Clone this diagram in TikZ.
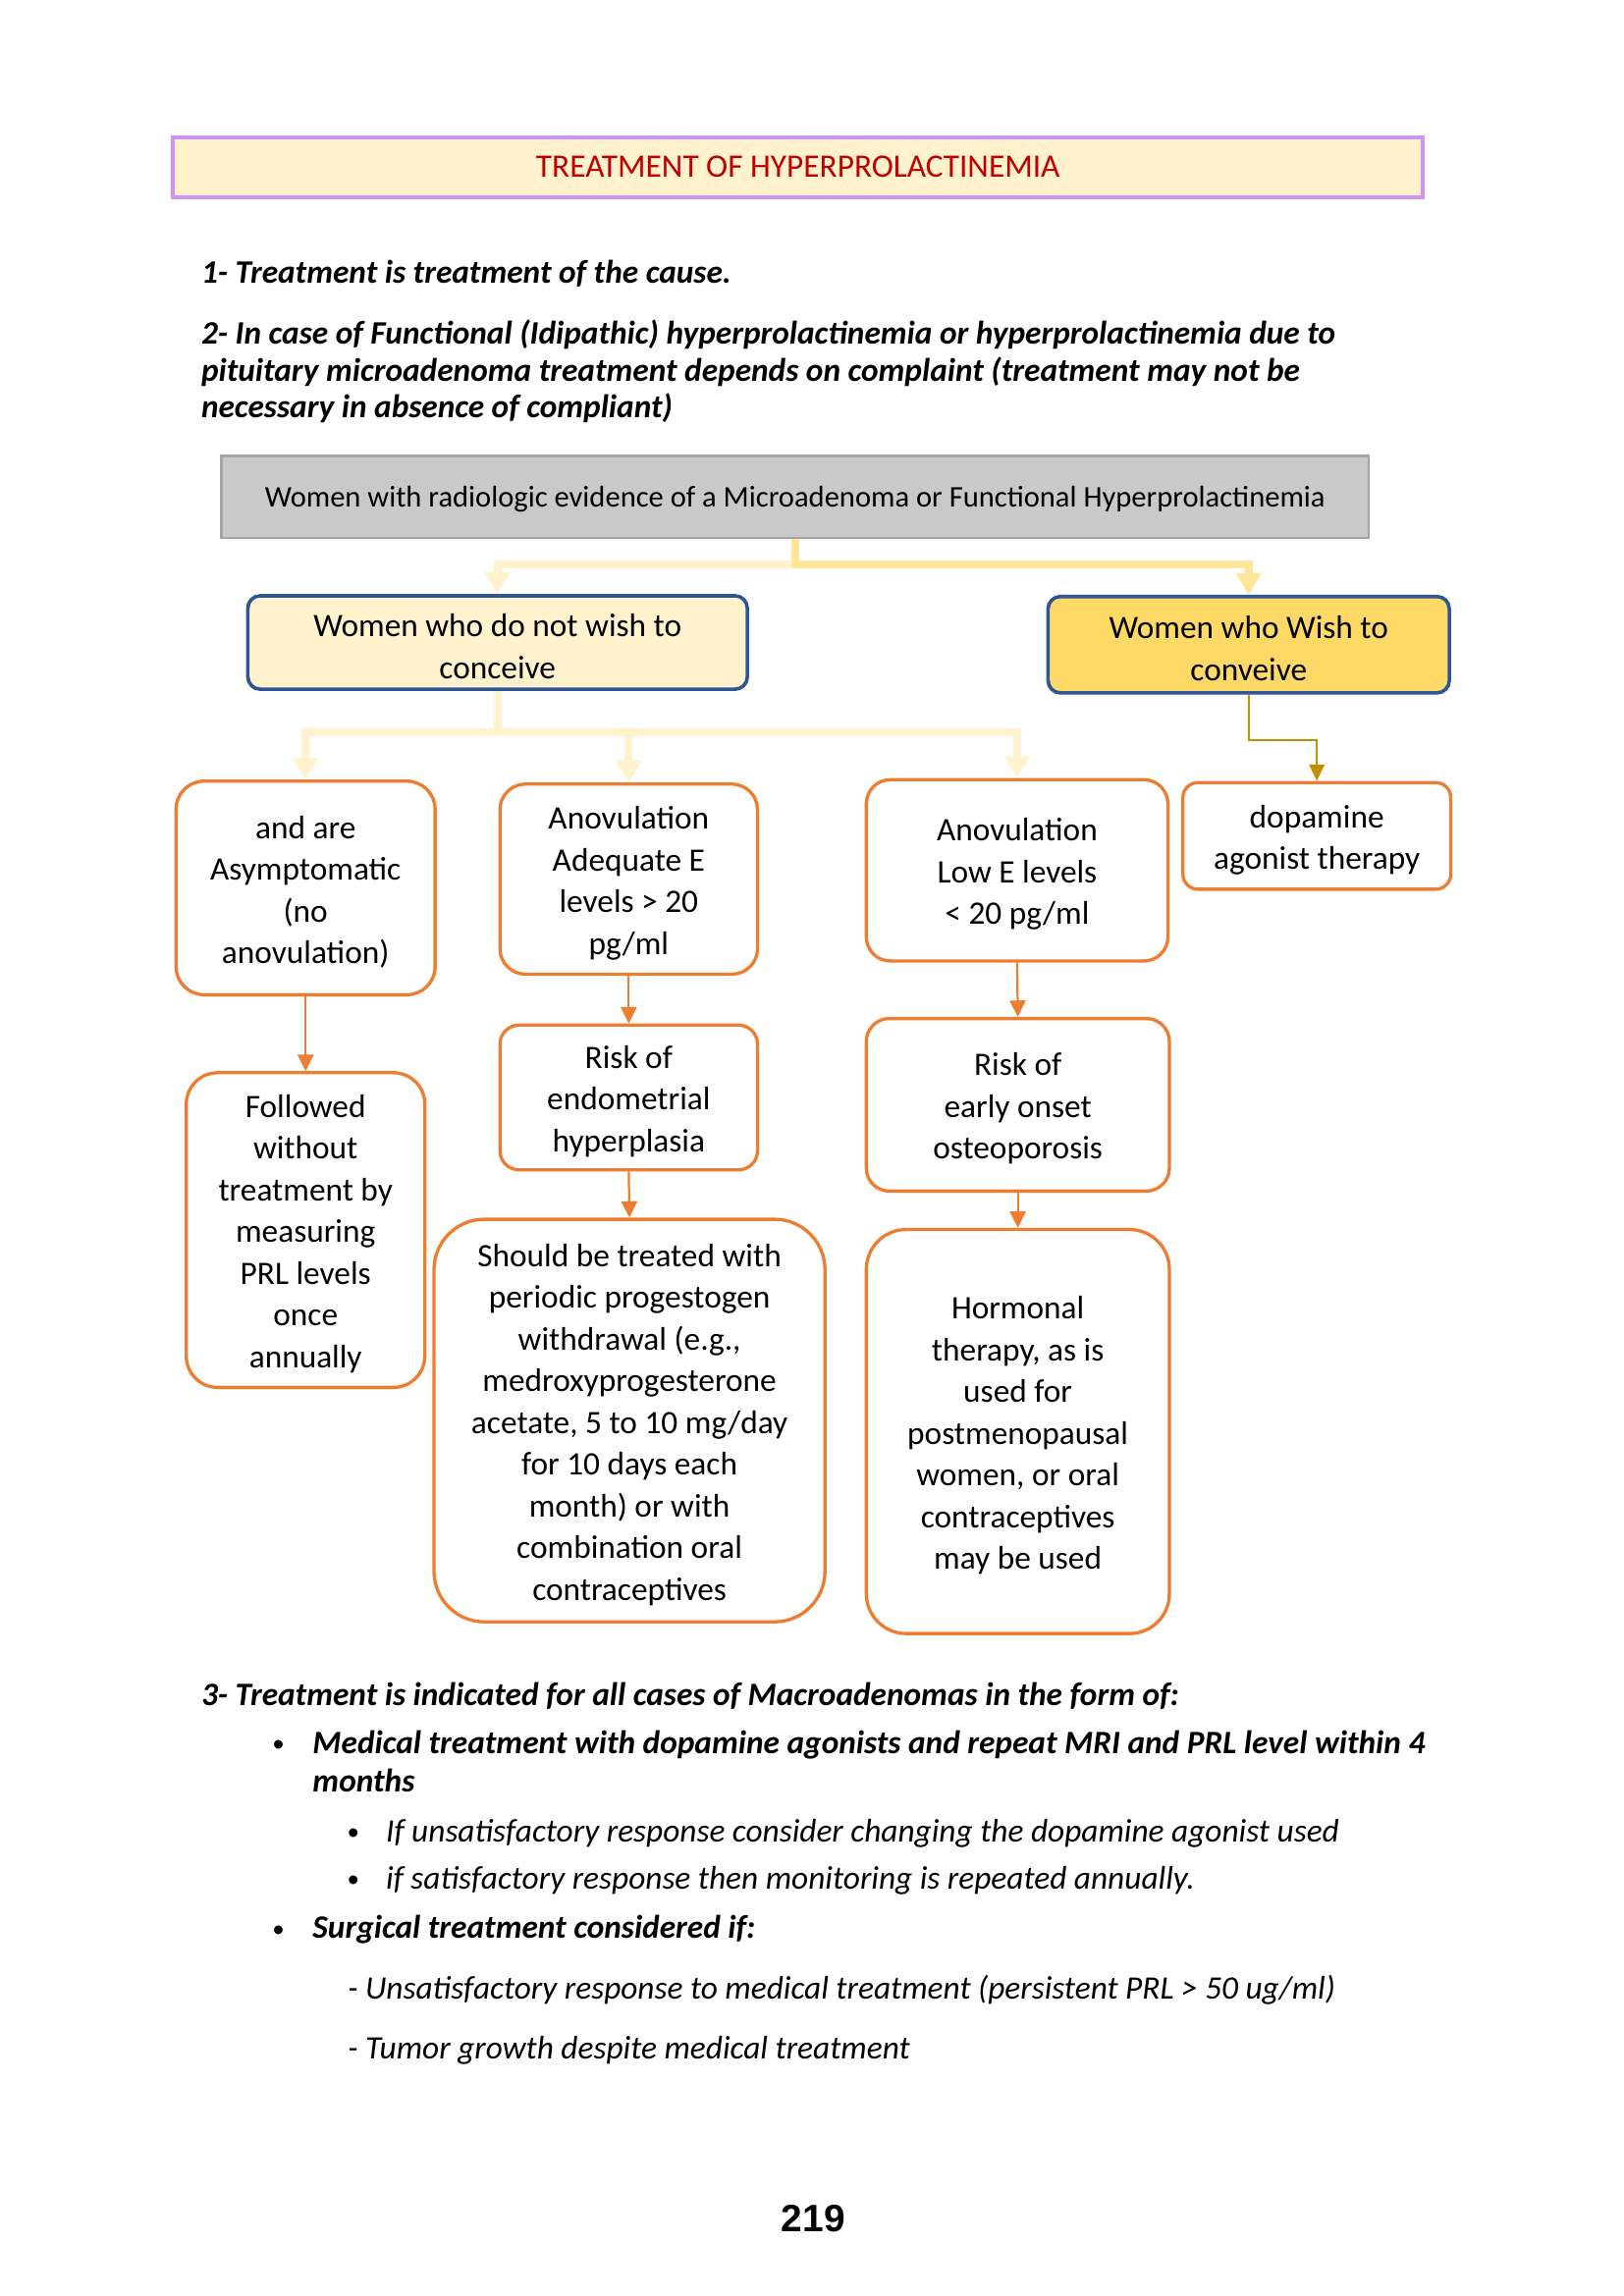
\documentclass[tikz,border=0pt]{standalone}
\usepackage{fontspec}
\setmainfont{Carlito}
\newfontfamily\arialfont{Liberation Sans}
\usetikzlibrary{arrows.meta}
\definecolor{titlered}{HTML}{C00000}
\definecolor{violetb}{HTML}{D093F0}
\definecolor{paleyel}{HTML}{FFF2CC}
\definecolor{goldfill}{HTML}{FFD966}
\definecolor{darkblue}{HTML}{2F5597}
\definecolor{orangeb}{HTML}{ED7D31}
\definecolor{goldline}{HTML}{BF9000}
\definecolor{connyel}{HTML}{FFE699}
\definecolor{greyfill}{HTML}{C9C9C9}
\definecolor{greyline}{HTML}{A5A5A5}
\newlength\pxu
\setlength\pxu{0.53727pt}
\newcommand\tstr{\rule{0pt}{11.2pt}}
\begin{document}
\begin{tikzpicture}[x=\pxu,y=-\pxu,
  boxtext/.style={font=\fontsize{12}{15.3}\selectfont, align=center, inner sep=0pt},
  sz/.style 2 args={minimum width=#1*\pxu-1.2pt, minimum height=#2*\pxu-1.2pt},
  obox/.style={boxtext, draw=orangeb, line width=1.2pt, fill=white},
  bbox/.style={boxtext, draw=darkblue, line width=1.3pt, rounded corners=4.5pt},
  oarrow/.style={draw=orangeb, line width=0.8pt, -{Triangle[length=6pt,width=5.8pt]}},
  palearrow/.style={draw=paleyel, line width=2.8pt, -{Triangle[length=8pt,width=9pt]}},
  yelarrow/.style={draw=connyel, line width=2.8pt, -{Triangle[length=8pt,width=9pt]}},
  goldarrow/.style={draw=goldline, line width=0.9pt, -{Triangle[length=6pt,width=5.5pt]}},
  para/.style={anchor=base west, inner sep=0pt, font=\fontsize{12}{13.5}\selectfont\bfseries\itshape},
  itpara/.style={anchor=base west, inner sep=0pt, font=\fontsize{12}{13.5}\selectfont\itshape},
  bul/.style={inner sep=0pt, font=\fontsize{9}{10}\selectfont},
]
\useasboundingbox (0,0) rectangle (1108,1567);

% Title
\node[draw=violetb, line width=1.4pt, fill=paleyel, sz={855}{43},
      inner sep=0pt, text=titlered, font=\fontsize{12}{13}\selectfont] (title) at (544.5,114)
      {TREATMENT OF HYPERPROLACTINEMIA};

% Intro paragraphs
\node[para] (p1) at (137,193) {1- Treatment is treatment of the cause.};
\node[para] (p2a) at (137,235) {2- In case of Functional (Idipathic) hyperprolactinemia or hyperprolactinemia due to};
\node[para] (p2b) at (137,260) {pituitary microadenoma treatment depends on complaint (treatment may not be};
\node[para] (p2c) at (137,285) {necessary in absence of compliant)};

% Top grey box
\node[draw=greyline, line width=0.8pt, fill=greyfill, sz={785}{58},
      inner sep=0pt, font=\fontsize{11}{13}\selectfont] (top) at (542.5,339)
      {\rule{0pt}{9.6pt}Women with radiologic evidence of a Microadenoma or Functional Hyperprolactinemia};

% Second level
\node[bbox, fill=paleyel, sz={343}{66}] (nowish) at (339.5,438.5)
      {\tstr Women who do not wish to\\conceive};
\node[bbox, fill=goldfill, sz={276}{68}] (wish) at (852,440)
      {\tstr Women who Wish to\\conveive};

% Orange boxes
\node[obox, sz={179}{148}, rounded corners=10.3pt] (a1) at (208.5,606)
      {\tstr and are\\Asymptomatic\\(no\\anovulation)};
\node[obox, sz={165}{217}, rounded corners=11.5pt] (a2) at (208.5,839.5)
      {\tstr Followed\\without\\treatment by\\measuring\\PRL levels\\once\\annually};
\node[obox, sz={178}{132}, rounded corners=9.4pt] (b1) at (429,600)
      {\tstr Anovulation\\Adequate E\\levels > 20\\pg/ml};
\node[obox, sz={178}{101}, rounded corners=7pt] (b2) at (429,749)
      {\tstr Risk of\\endometrial\\hyperplasia};
\node[obox, sz={269}{277}, rounded corners=18.5pt] (b3) at (429.5,969.5)
      {\tstr Should be treated with\\periodic progestogen\\withdrawal (e.g.,\\medroxyprogesterone\\acetate, 5 to 10 mg/day\\for 10 days each\\month) or with\\combination oral\\contraceptives};
\node[obox, sz={208}{126}, rounded corners=8.8pt] (c1) at (694,594)
      {\tstr Anovulation\\Low E levels\\< 20 pg/ml};
\node[obox, sz={209}{120}, rounded corners=8.4pt] (c2) at (694.5,754)
      {\tstr Risk of\\early onset\\osteoporosis};
\node[obox, sz={209}{278}, rounded corners=14.6pt] (c3) at (694.5,977)
      {\tstr Hormonal\\therapy, as is\\used for\\postmenopausal\\women, or oral\\contraceptives\\may be used};
\node[obox, sz={185}{75}, rounded corners=5.5pt] (d1) at (898.5,570.5)
      {\tstr dopamine\\agonist therapy};

% Connectors from top box
\coordinate (tj) at (542.5,385);
\draw[palearrow] (top.south) -- (tj) -| (nowish.north);
\draw[yelarrow] (top.south) -- (tj) -| (wish.north);

% Connectors from "do not wish"
\coordinate (nj) at (339.5,500);
\draw[palearrow] (nowish.south) -- (nj) -| (a1.north);
\draw[palearrow] (nowish.south) -- (nj) -| (b1.north);
\draw[palearrow] (nowish.south) -- (nj) -| (c1.north);

% Connector from "wish"
\coordinate (wj) at (852,505);
\draw[goldarrow] (wish.south) -- (wj) -| (d1.north);

% Orange arrows
\draw[oarrow] (a1.south) -- (a2.north);
\draw[oarrow] (b1.south) -- (b2.north);
\draw[oarrow] (b2.south) -- (b3.north);
\draw[oarrow] (c1.south) -- (c2.north);
\draw[oarrow] (c2.south) -- (c3.north);

% Bottom text
\node[para] (p3) at (137,1164) {3- Treatment is indicated for all cases of Macroadenomas in the form of:};
\node[bul] (bul1) at (190,1192) {\textbullet};
\node[para] (m1a) at (213,1197) {Medical treatment with dopamine agonists and repeat MRI and PRL level within 4};
\node[para] (m1b) at (213,1223) {months};
\node[bul] (bul2) at (241,1252) {\textbullet};
\node[itpara] (s1) at (263,1257) {If unsatisfactory response consider changing the dopamine agonist used};
\node[bul] (bul3) at (241,1284) {\textbullet};
\node[itpara] (s2) at (263,1289) {if satisfactory response then monitoring is repeated annually.};
\node[bul] (bul4) at (190,1318) {\textbullet};
\node[para] (m2) at (213,1323) {Surgical treatment considered if:};
\node[itpara] (u1) at (237,1364) {- Unsatisfactory response to medical treatment (persistent PRL > 50 ug/ml)};
\node[itpara] (u2) at (237,1405) {- Tumor growth despite medical treatment};

% Page number
\node[anchor=base, inner sep=0pt, font=\arialfont\bfseries\fontsize{14}{16}\selectfont] (pg) at (555,1523) {219};
\end{tikzpicture}
\end{document}
